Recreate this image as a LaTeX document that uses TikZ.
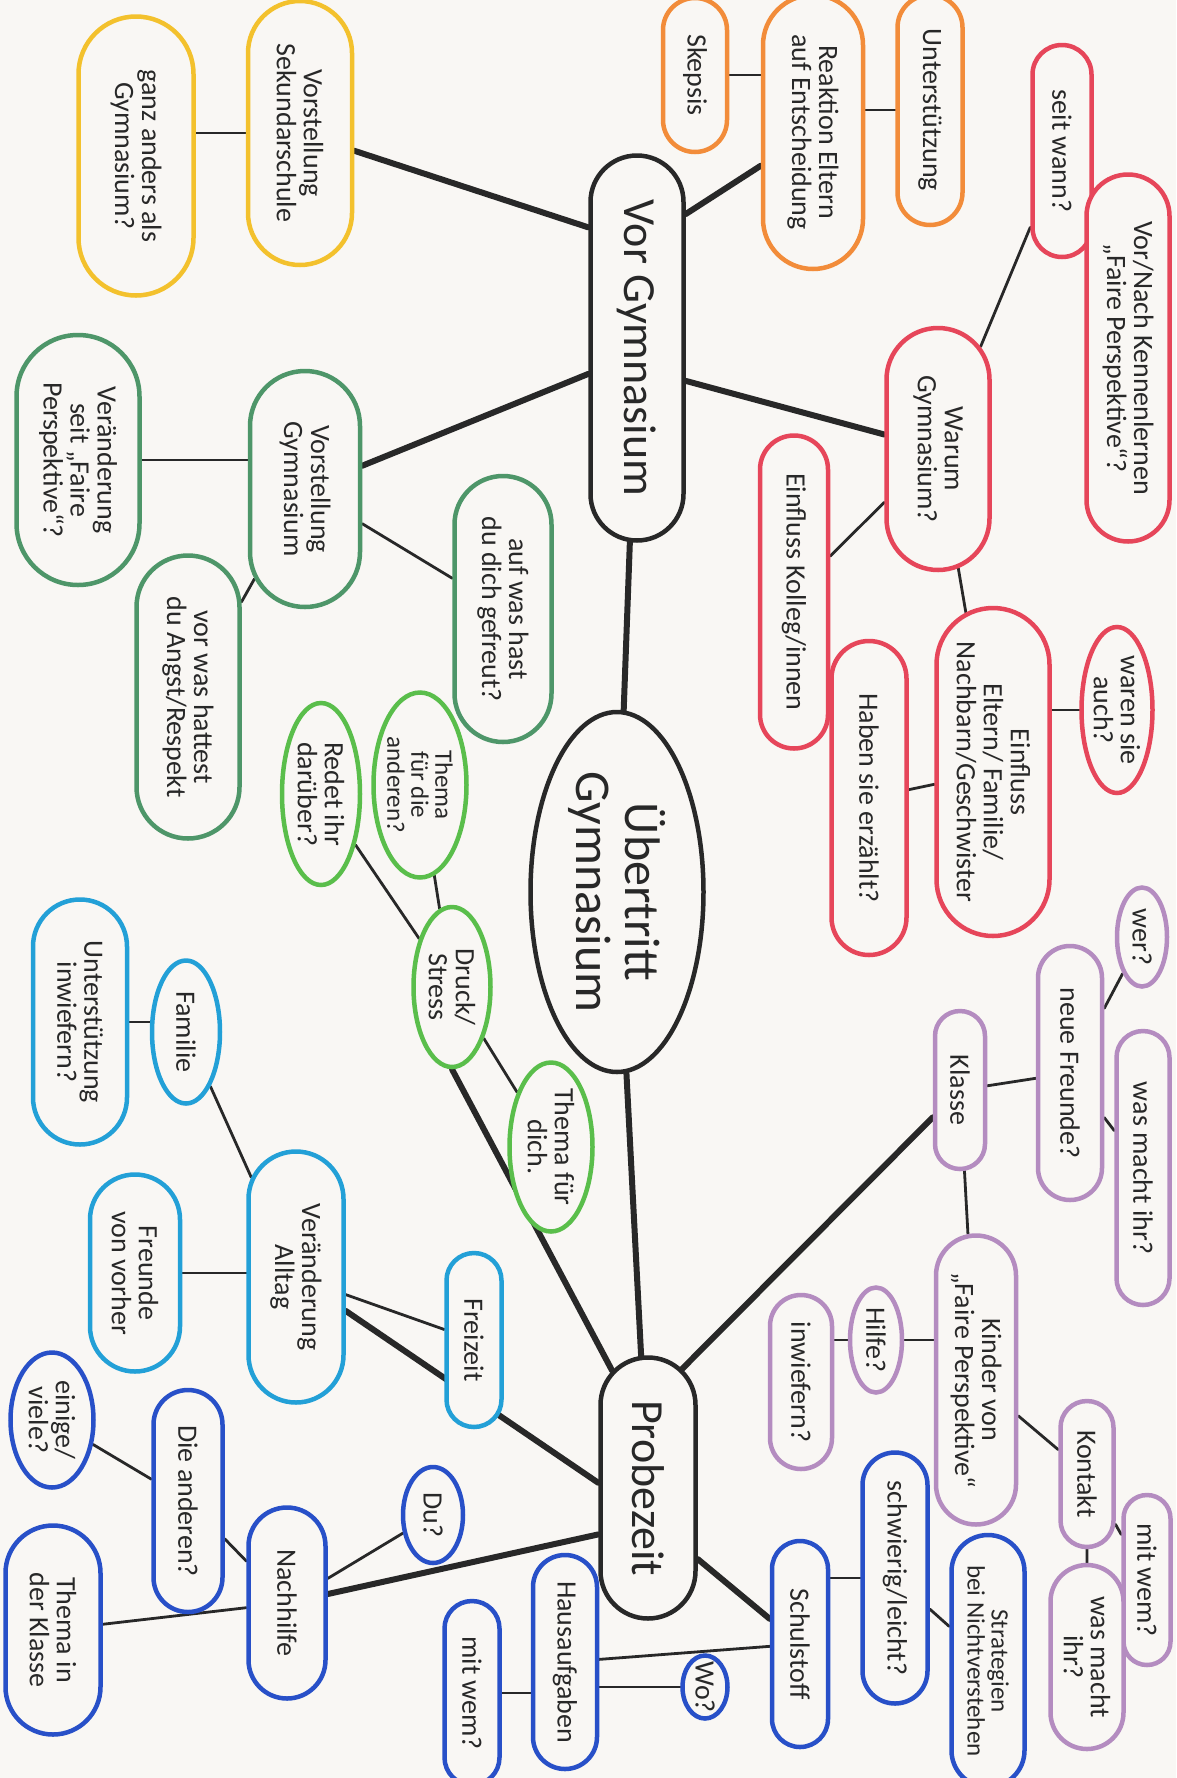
\documentclass[tikz,border=0pt]{standalone}
\usepackage{fontspec}
\setmainfont{Carlito}
\usetikzlibrary{shapes.geometric,shapes.misc,backgrounds}

\definecolor{paper}{RGB}{249,247,244}
\definecolor{ink}{RGB}{40,40,40}
\definecolor{mkyellow}{RGB}{243,193,45}
\definecolor{mkorange}{RGB}{242,140,58}
\definecolor{mkred}{RGB}{230,70,90}
\definecolor{mkdgreen}{RGB}{78,150,105}
\definecolor{mklgreen}{RGB}{90,190,75}
\definecolor{mkpurple}{RGB}{180,140,192}
\definecolor{mkcyan}{RGB}{35,160,215}
\definecolor{mkblue}{RGB}{40,80,200}

\newcommand\handfont{\fontsize{28}{27}\selectfont}
\newcommand\smallhand{\fontsize{25}{24}\selectfont}
\newcommand\bighand{\fontsize{46}{46}\selectfont}
\newcommand\hugehand{\fontsize{50}{49}\selectfont}

\begin{document}
\begin{tikzpicture}[
    x=1pt, y=-1pt,
    bubble/.style={
        rounded rectangle, draw=#1, fill=paper, line width=4.5pt,
        rotate=-90, align=center, text=ink,
        inner xsep=-12pt, inner ysep=1pt,   % let the minimum size rule
        font=\handfont
    },
    egg/.style={ellipse, inner xsep=-20pt, inner ysep=-6pt},
    dims/.style 2 args={minimum height=#1pt, minimum width=#2pt},
    branch/.style={draw=ink, line width=6pt, line cap=round},
    twig/.style={draw=ink, line width=2.8pt, line cap=round},
]
  \useasboundingbox (0,0) rectangle (1176,1778);

  %––– Centre and main topics ––––––––––––––––––––––––––––––––
  \node (ueb) [bubble=ink, egg, dims={173}{360}, font=\hugehand] at (617,892) {Übertritt\\Gymnasium};
  \node (vg)  [bubble=ink, dims={93}{361}, font=\bighand] at (637,348) {Vor Gymnasium};
  \node (pz)  [bubble=ink, dims={95}{237}, font=\bighand] at (648,1488) {Probezeit};

  %––– Reaktion Eltern (orange) ––––––––––––––––––––––––––––––
  \node (unt)  [bubble=mkorange, dims={65}{206}] at (930,110) {Unterstützung};
  \node (reak) [bubble=mkorange, dims={100}{250}] at (813,132) {Reaktion Eltern\\auf Entscheidung};
  \node (skep) [bubble=mkorange, dims={64}{130}] at (695,75) {Skepsis};

  %––– Sekundarschule (yellow) –––––––––––––––––––––––––––––––
  \node (sek)  [bubble=mkyellow, dims={104}{240}] at (300,133) {Vorstellung\\Sekundarschule};
  \node (ganz) [bubble=mkyellow, dims={115}{255}] at (136,156) {ganz anders als\\Gymnasium?};

  %––– Vorstellung Gymnasium (dark green) ––––––––––––––––––––
  \node (vgym)    [bubble=mkdgreen, dims={110}{212}] at (305,489) {Vorstellung\\Gymnasium};
  \node (ver)     [bubble=mkdgreen, dims={123}{226}] at (78,460) {Veränderung\\seit „Faire\\Perspektive“?};
  \node (angst)   [bubble=mkdgreen, dims={103}{259}] at (188,697) {vor was hattest\\du Angst/Respekt};
  \node (gefreut) [bubble=mkdgreen, dims={97}{242}] at (503,609) {auf was hast\\du dich gefreut?};

  %––– Druck / Stress (light green) ––––––––––––––––––––––––––
  \node (druck)  [bubble=mklgreen, egg, dims={77}{160}] at (452,987) {Druck/\\Stress};
  \node (andere) [bubble=mklgreen, egg, dims={93}{185}, font=\smallhand] at (420,785) {Thema\\für die\\anderen?};
  \node (redet)  [bubble=mklgreen, egg, dims={78}{182}] at (321,794) {Redet ihr\\darüber?};
  \node (dich)   [bubble=mklgreen, egg, dims={83}{169}] at (551,1147) {Thema für\\dich.};

  %––– Warum Gymnasium (red) –––––––––––––––––––––––––––––––––
  \node (warum)   [bubble=mkred, dims={103}{218}] at (938,449) {Warum\\Gymnasium?};
  \node (seit)    [bubble=mkred, dims={59}{188}] at (1062,151) {seit wann?};
  \node (vornach) [bubble=mkred, dims={83}{343}] at (1128,358) {Vor/Nach Kennenlernen\\„Faire Perspektive“?};
  \node (kolleg)  [bubble=mkred, dims={68}{289}] at (794,592) {Einfluss Kolleg/innen};
  \node (eltern)  [bubble=mkred, dims={113}{304}] at (993,772) {Einfluss\\Eltern/ Familie/\\Nachbarn/Geschwister};
  \node (waren)   [bubble=mkred, egg, dims={71}{166}] at (1117,710) {waren sie\\auch?};
  \node (haben)   [bubble=mkred, dims={75}{290}] at (869,798) {Haben sie erzählt?};

  %––– Klasse (purple) –––––––––––––––––––––––––––––––––––––––
  \node (klasse)    [bubble=mkpurple, dims={50}{134}] at (960,1090) {Klasse};
  \node (freunde)   [bubble=mkpurple, dims={64}{230}] at (1070,1073) {neue Freunde?};
  \node (wer)       [bubble=mkpurple, egg, dims={50}{99}] at (1142,937) {wer?};
  \node (wasihr)    [bubble=mkpurple, dims={53}{250}] at (1143,1168) {was macht ihr?};
  \node (kinder)    [bubble=mkpurple, dims={80}{265}] at (976,1380) {Kinder von\\„Faire Perspektive“};
  \node (hilfe)     [bubble=mkpurple, egg, dims={52}{105}] at (876,1340) {Hilfe?};
  \node (inwiefern) [bubble=mkpurple, dims={62}{150}] at (801,1382) {inwiefern?};
  \node (kontakt)   [bubble=mkpurple, dims={53}{122}] at (1087,1474) {Kontakt};
  \node (mitwemk)   [bubble=mkpurple, dims={47}{146}] at (1147,1580) {mit wem?};
  \node (wasmacht)  [bubble=mkpurple, dims={73}{160}] at (1087,1657) {was macht\\ihr?};

  %––– Veränderung Alltag (cyan) –––––––––––––––––––––––––––––
  \node (alltag)   [bubble=mkcyan, dims={95}{227}] at (296,1277) {Veränderung\\Alltag};
  \node (familie)  [bubble=mkcyan, egg, dims={68}{143}] at (186,1032) {Familie};
  \node (untinw)   [bubble=mkcyan, dims={94}{221}] at (80,1022) {Unterstützung\\inwiefern?};
  \node (vorher)   [bubble=mkcyan, dims={90}{173}] at (135,1273) {Freunde\\von vorher};
  \node (freizeit) [bubble=mkcyan, dims={55}{150}] at (474,1340) {Freizeit};

  %––– Nachhilfe & Schulstoff (blue) –––––––––––––––––––––––––
  \node (nachhilfe) [bubble=mkblue, dims={77}{167}] at (287,1603) {Nachhilfe};
  \node (dieand)    [bubble=mkblue, dims={69}{198}] at (188,1501) {Die anderen?};
  \node (einige)    [bubble=mkblue, egg, dims={83}{135}] at (52,1420) {einige/\\viele?};
  \node (themakl)   [bubble=mkblue, dims={95}{185}] at (53,1630) {Thema in\\der Klasse};
  \node (du)        [bubble=mkblue, egg, dims={60}{96}] at (433,1515) {Du?};
  \node (haus)      [bubble=mkblue, dims={64}{190}] at (565,1662) {Hausaufgaben};
  \node (mitwemh)   [bubble=mkblue, dims={55}{160}] at (472,1693) {mit wem?};
  \node (wo)        [bubble=mkblue, egg, dims={45}{63}] at (705,1687) {Wo?};
  \node (schul)     [bubble=mkblue, dims={56}{182}] at (800,1644) {Schulstoff};
  \node (schwer)    [bubble=mkblue, dims={65}{227}] at (895,1578) {schwierig/leicht?};
  \node (strat)     [bubble=mkblue, dims={73}{228}, font=\smallhand] at (988,1661) {Strategien\\bei Nichtverstehen};

  %––– Connectors, kept behind the bubbles ––––––––––––––––––
  \begin{scope}[on background layer]
    \fill[paper] (0,0) rectangle (1176,1778);
    % main branches
    \draw[branch] (vg) -- (ueb);
    \draw[branch] (ueb) -- (pz);
    \draw[branch] (vg.202) -- (sek);
    \draw[branch] (vg.298) -- (vgym);
    \draw[branch] (vg.160) -- (reak);
    \draw[branch] (vg.56) -- (warum);
    \draw[branch] (druck.east) -- (pz.197);
    \draw[branch] (pz.164) -- (klasse);
    \draw[branch] (pz.264) -- (alltag);
    \draw[branch] (pz.313) -- (nachhilfe);
    \draw[branch] (pz.35) -- (schul);
    % sub topics
    \draw[twig] (skep) -- (skep -| reak);
    \draw[twig] (unt) -- (unt -| reak);
    \draw[twig] (sek) -- (sek -| ganz);
    \draw[twig] (ver) -- (ver -| vgym);
    \draw[twig] (vgym) -- (angst);
    \draw[twig] (vgym) -- (gefreut);
    \draw[twig] (druck) -- (andere);
    \draw[twig] (druck) -- (redet);
    \draw[twig] (druck) -- (dich);
    \draw[twig] (warum) -- (seit);
    \draw[twig] (seit) -- (vornach);
    \draw[twig] (warum) -- (kolleg);
    \draw[twig] (warum) -- (eltern);
    \draw[twig] (waren) -- (waren -| eltern);
    \draw[twig] (eltern) -- (haben);
    \draw[twig] (klasse) -- (freunde);
    \draw[twig] (freunde) -- (wer);
    \draw[twig] (freunde) -- (wasihr);
    \draw[twig] (klasse) -- (kinder);
    \draw[twig] (hilfe) -- (hilfe -| kinder);
    \draw[twig] (hilfe) -- (hilfe -| inwiefern);
    \draw[twig] (kinder) -- (kontakt);
    \draw[twig] (kontakt) -- (mitwemk);
    \draw[twig] (kontakt) -- (wasmacht);
    \draw[twig] (untinw) -- (untinw -| familie);
    \draw[twig] (familie) -- (alltag);
    \draw[twig] (vorher) -- (vorher -| alltag);
    \draw[twig] (alltag) -- (freizeit);
    \draw[twig] (nachhilfe) -- (dieand);
    \draw[twig] (dieand) -- (einige);
    \draw[twig] (nachhilfe) -- (themakl);
    \draw[twig] (nachhilfe) -- (du);
    \draw[twig] (schul) -- (haus);
    \draw[twig] (wo) -- (wo -| haus);
    \draw[twig] (mitwemh) -- (mitwemh -| haus);
    \draw[twig] (schwer) -- (schwer -| schul);
    \draw[twig] (schwer) -- (strat);
  \end{scope}
\end{tikzpicture}
\end{document}
